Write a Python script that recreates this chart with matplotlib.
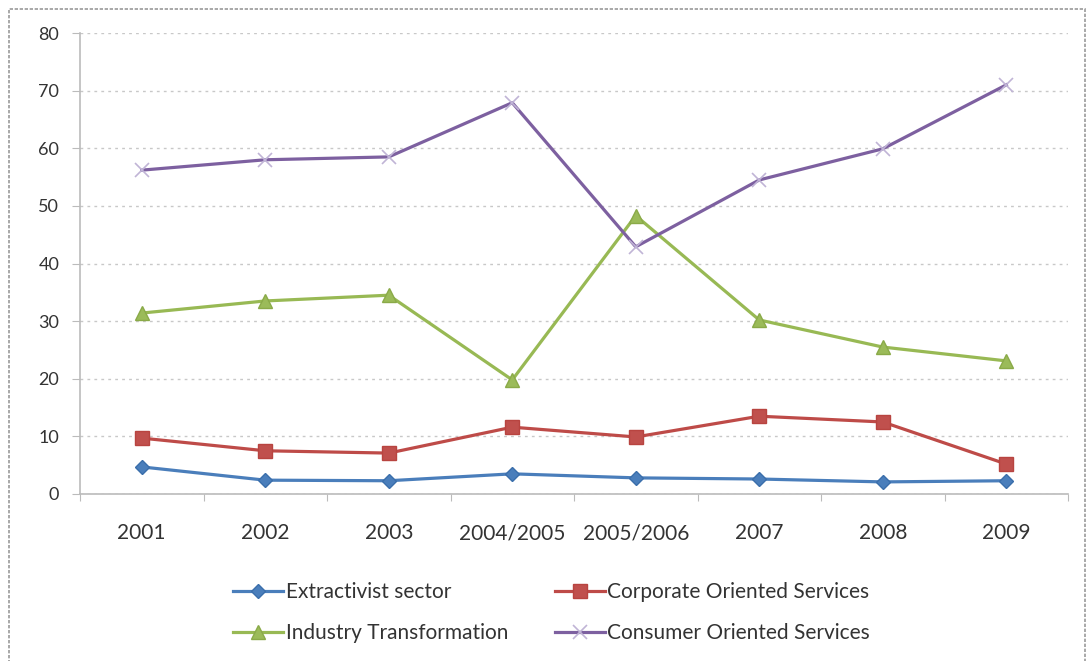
import matplotlib
matplotlib.use("Agg")
import matplotlib.pyplot as plt
from matplotlib.patches import Rectangle

categories = ["2001", "2002", "2003", "2004/2005", "2005/2006", "2007", "2008", "2009"]
extractivist = [4.7, 2.4, 2.3, 3.5, 2.8, 2.6, 2.1, 2.3]
corporate = [9.7, 7.5, 7.1, 11.6, 9.9, 13.5, 12.5, 5.2]
industry = [31.4, 33.5, 34.5, 19.8, 48.3, 30.2, 25.5, 23.1]
consumer = [56.2, 58.0, 58.5, 67.9, 42.9, 54.5, 59.9, 71.0]
y_ticks = [0, 10, 20, 30, 40, 50, 60, 70, 80]

plt.rcParams['font.family'] = ['Lato', 'DejaVu Sans']

fig = plt.figure(figsize=(10.86, 6.61), dpi=100)
ax = fig.add_axes([80/1086, 1-494/661, (1068-80)/1086, (494-33)/661])

x = list(range(len(categories)))
lw = 2.3
ax.plot(x, extractivist, color='#4A7EBB', lw=lw, marker='D', ms=7.5,
        mfc='#4A7EBB', mec='#3A6EAB', label='Extractivist sector', zorder=3)
ax.plot(x, corporate, color='#BE4B48', lw=lw, marker='s', ms=10,
        mfc='#C0504D', mec='#B84440', label='Corporate Oriented Services', zorder=3)
ax.plot(x, industry, color='#98B954', lw=lw, marker='^', ms=10,
        mfc='#9BBB59', mec='#8AAA48', label='Industry Transformation', zorder=3)
ax.plot(x, consumer, color='#7D60A0', lw=lw, marker='x', ms=10, mew=1.2,
        mec='#C0B4D6', label='Consumer Oriented Services', zorder=3)

ax.set_xlim(-0.5, len(categories) - 0.5)
ax.set_ylim(0, 80)
ax.set_yticks(y_ticks)
ax.set_yticklabels([str(v) for v in y_ticks], fontsize=13, color='#333333')
ax.set_xticks([i + 0.5 for i in range(-1, len(categories))], minor=False)
ax.set_xticklabels([])
ax.set_xticks(x, minor=True)
ax.set_xticklabels(categories, minor=True, fontsize=15, color='#333333')
ax.tick_params(axis='x', which='minor', length=0, pad=21)
ax.tick_params(axis='x', which='major', length=5, color='#BBBBBB', direction='out')
ax.tick_params(axis='y', length=6, color='#BBBBBB', direction='out', pad=9)

ax.yaxis.grid(True, linestyle=(0, (2, 3)), color='#C8C8C8', lw=1)
ax.set_axisbelow(True)
for s in ['top', 'right']:
    ax.spines[s].set_visible(False)
for s in ['left', 'bottom']:
    ax.spines[s].set_color('#BBBBBB')
    ax.spines[s].set_linewidth(1.2)

handles, labels = ax.get_legend_handles_labels()
order = [0, 2, 1, 3]
fig.legend([handles[i] for i in order], [labels[i] for i in order],
           loc='center left', bbox_to_anchor=(233/1086, 1-612.5/661), ncol=2,
           frameon=False, fontsize=15, handlelength=2.4, handletextpad=0.12,
           columnspacing=2.25, labelspacing=1.0, borderpad=0,
           borderaxespad=0, labelcolor='#333333')

fig.add_artist(Rectangle((9/1086, -0.01), 1076/1086, 1 - 9/661 + 0.01,
                         transform=fig.transFigure, fill=False,
                         edgecolor='#999999', lw=1.2, linestyle=(0, (2, 1))))

fig.savefig("out.png", dpi=100)
